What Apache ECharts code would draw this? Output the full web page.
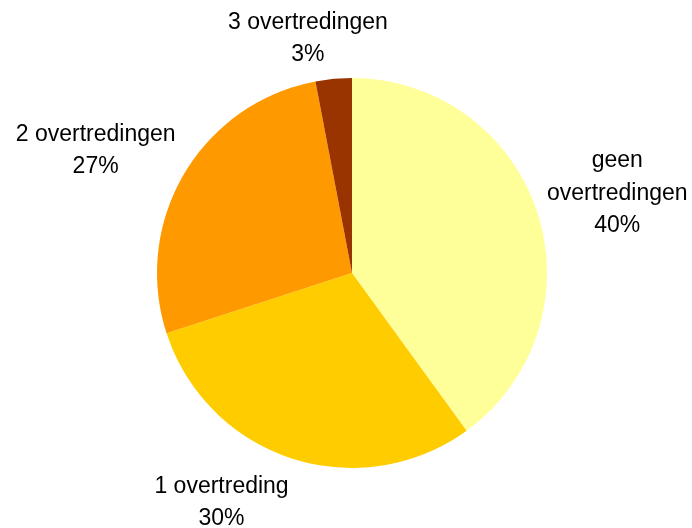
<!DOCTYPE html>
<html>
<head>
<meta charset="utf-8">
<script src="https://cdn.jsdelivr.net/npm/echarts@6/dist/echarts.min.js"></script>
<style>
  html, body { margin: 0; padding: 0; background: #fff; }
  #chart { width: 692px; height: 528px; }
</style>
</head>
<body>
<div id="chart"></div>
<script>
// categories and shares (%)
var categories = ['geen\novertredingen', '1 overtreding', '2 overtredingen', '3 overtredingen'];
var values = [40, 30, 27, 3];
var colors = ['#FFFF99', '#FFCC00', '#FF9900', '#993300'];

var cx = 352, cy = 273, R = 195, gap = 10;

// mid angle of every slice, clockwise from 12 o'clock
var total = values.reduce(function (a, b) { return a + b; }, 0);
var midAngles = [];
var acc = 0;
for (var k = 0; k < values.length; k++) {
  midAngles.push((acc + values[k] / 2) / total * 2 * Math.PI);
  acc += values[k];
}

function clamp(v) { return Math.max(-1, Math.min(1, v)); }

var pieData = [];
for (var i = 0; i < categories.length; i++) {
  pieData.push({ name: categories[i], value: values[i], itemStyle: { color: colors[i] } });
}

var myChart = echarts.init(document.getElementById('chart'));
myChart.setOption({
  animation: false,
  series: [{
    type: 'pie',
    center: [cx, cy],
    radius: R,
    startAngle: 90,
    clockwise: true,
    data: pieData,
    itemStyle: { borderWidth: 0 },
    label: {
      show: true,
      position: 'outside',
      formatter: '{b}\n{c}%',
      fontFamily: 'Liberation Sans, Arial, sans-serif',
      fontSize: 23,
      lineHeight: 32.5,
      overflow: 'none',
      color: '#000'
    },
    labelLine: { show: false, length: 15, length2: 0 },
    labelLayout: function (p) {
      // excel-like placement: box pushed outwards from a point just off the rim
      var a = midAngles[p.dataIndex];
      var dx = Math.sin(a), dy = -Math.cos(a);
      var px = cx + dx * (R + gap), py = cy + dy * (R + gap);
      var w = p.labelRect.width, h = p.labelRect.height;
      return {
        x: px + clamp(dx * 3.3) * w / 2,
        y: py + clamp(dy * 1.2) * h / 2 + 2,
        align: 'center',
        verticalAlign: 'middle'
      };
    }
  }]
});
</script>
</body>
</html>
